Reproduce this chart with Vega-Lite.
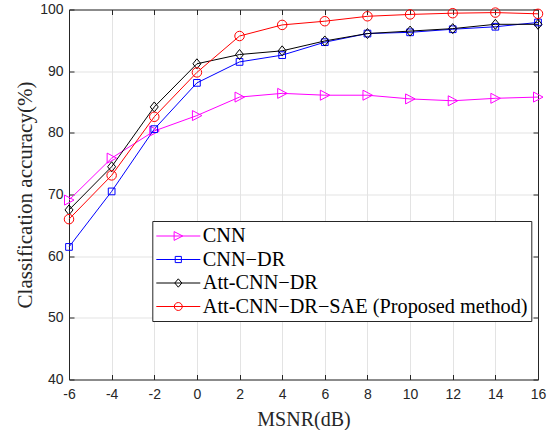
{
  "$schema": "https://vega.github.io/schema/vega-lite/v6.json",
  "width": 469,
  "height": 370,
  "autosize": "none",
  "padding": {"left": 69, "top": 9.5, "right": 16, "bottom": 50.5},
  "background": "white",
  "config": {"view": {"stroke": null}},
  "data": {
    "values": [
      {"snr": -6, "method": "CNN", "acc": 69.1},
      {"snr": -4, "method": "CNN", "acc": 75.9},
      {"snr": -2, "method": "CNN", "acc": 80.3},
      {"snr": 0, "method": "CNN", "acc": 82.8},
      {"snr": 2, "method": "CNN", "acc": 85.8},
      {"snr": 4, "method": "CNN", "acc": 86.4},
      {"snr": 6, "method": "CNN", "acc": 86.1},
      {"snr": 8, "method": "CNN", "acc": 86.1},
      {"snr": 10, "method": "CNN", "acc": 85.5},
      {"snr": 12, "method": "CNN", "acc": 85.2},
      {"snr": 14, "method": "CNN", "acc": 85.6},
      {"snr": 16, "method": "CNN", "acc": 85.8},
      {"snr": -6, "method": "CNN−DR", "acc": 61.5},
      {"snr": -4, "method": "CNN−DR", "acc": 70.5},
      {"snr": -2, "method": "CNN−DR", "acc": 80.6},
      {"snr": 0, "method": "CNN−DR", "acc": 88.1},
      {"snr": 2, "method": "CNN−DR", "acc": 91.5},
      {"snr": 4, "method": "CNN−DR", "acc": 92.6},
      {"snr": 6, "method": "CNN−DR", "acc": 94.7},
      {"snr": 8, "method": "CNN−DR", "acc": 96.1},
      {"snr": 10, "method": "CNN−DR", "acc": 96.3},
      {"snr": 12, "method": "CNN−DR", "acc": 96.8},
      {"snr": 14, "method": "CNN−DR", "acc": 97.2},
      {"snr": 16, "method": "CNN−DR", "acc": 97.9},
      {"snr": -6, "method": "Att-CNN−DR", "acc": 67.5},
      {"snr": -4, "method": "Att-CNN−DR", "acc": 74.5},
      {"snr": -2, "method": "Att-CNN−DR", "acc": 84.2},
      {"snr": 0, "method": "Att-CNN−DR", "acc": 91.2},
      {"snr": 2, "method": "Att-CNN−DR", "acc": 92.7},
      {"snr": 4, "method": "Att-CNN−DR", "acc": 93.3},
      {"snr": 6, "method": "Att-CNN−DR", "acc": 94.9},
      {"snr": 8, "method": "Att-CNN−DR", "acc": 96.1},
      {"snr": 10, "method": "Att-CNN−DR", "acc": 96.5},
      {"snr": 12, "method": "Att-CNN−DR", "acc": 96.9},
      {"snr": 14, "method": "Att-CNN−DR", "acc": 97.6},
      {"snr": 16, "method": "Att-CNN−DR", "acc": 97.6},
      {"snr": -6, "method": "Att-CNN−DR−SAE (Proposed method)", "acc": 66.0},
      {"snr": -4, "method": "Att-CNN−DR−SAE (Proposed method)", "acc": 73.1},
      {"snr": -2, "method": "Att-CNN−DR−SAE (Proposed method)", "acc": 82.6},
      {"snr": 0, "method": "Att-CNN−DR−SAE (Proposed method)", "acc": 89.8},
      {"snr": 2, "method": "Att-CNN−DR−SAE (Proposed method)", "acc": 95.7},
      {"snr": 4, "method": "Att-CNN−DR−SAE (Proposed method)", "acc": 97.5},
      {"snr": 6, "method": "Att-CNN−DR−SAE (Proposed method)", "acc": 98.1},
      {"snr": 8, "method": "Att-CNN−DR−SAE (Proposed method)", "acc": 98.9},
      {"snr": 10, "method": "Att-CNN−DR−SAE (Proposed method)", "acc": 99.2},
      {"snr": 12, "method": "Att-CNN−DR−SAE (Proposed method)", "acc": 99.4},
      {"snr": 14, "method": "Att-CNN−DR−SAE (Proposed method)", "acc": 99.5},
      {"snr": 16, "method": "Att-CNN−DR−SAE (Proposed method)", "acc": 99.3}
    ]
  },
  "resolve": {"scale": {"color": "independent", "shape": "independent"}},
  "layer": [
    {
      "mark": {"type": "line", "strokeWidth": 1},
      "encoding": {
        "x": {
          "field": "snr", "type": "quantitative",
          "scale": {"domain": [-6, 16], "nice": false, "zero": false},
          "axis": {
            "orient": "bottom", "values": [-6, -4, -2, 0, 2, 4, 6, 8, 10, 12, 14, 16],
            "grid": true, "gridColor": "#e3e3e3", "tickSize": -5, "tickColor": "#262626",
            "domainColor": "#262626", "labelPadding": 13, "labelFlush": false, "labelOverlap": false,
            "labelFont": "Liberation Sans", "labelFontSize": 14, "labelColor": "#262626",
            "labelExpr": "'' + datum.value",
            "title": "MSNR(dB)", "titleFont": "Liberation Serif", "titleFontSize": 20,
            "titleFontWeight": "normal", "titleColor": "#262626", "titlePadding": 8
          }
        },
        "y": {
          "field": "acc", "type": "quantitative",
          "scale": {"domain": [40, 100], "nice": false, "zero": false},
          "axis": {
            "orient": "left", "values": [40, 50, 60, 70, 80, 90, 100],
            "grid": true, "gridColor": "#e3e3e3", "tickSize": -5, "tickColor": "#262626",
            "domainColor": "#262626", "labelPadding": 11, "labelFlush": false, "labelOverlap": false,
            "labelFont": "Liberation Sans", "labelFontSize": 14, "labelColor": "#262626",
            "title": "Classification accuracy(%)", "titleFont": "Liberation Serif", "titleFontSize": 21,
            "titleFontWeight": "normal", "titleColor": "#262626", "titlePadding": 4
          }
        },
        "color": {
          "field": "method", "type": "nominal",
          "scale": {
            "domain": ["CNN", "CNN−DR", "Att-CNN−DR", "Att-CNN−DR−SAE (Proposed method)"],
            "range": ["#ff00ff", "#0000ff", "#000000", "#ff0000"]
          },
          "legend": null
        }
      }
    },
    {
      "mark": {"type": "point", "filled": false, "size": 100, "strokeWidth": 1, "opacity": 1},
      "encoding": {
        "x": {"field": "snr", "type": "quantitative", "axis": null},
        "y": {"field": "acc", "type": "quantitative", "axis": null},
        "color": {
          "field": "method", "type": "nominal",
          "scale": {
            "domain": ["CNN", "CNN−DR", "Att-CNN−DR", "Att-CNN−DR−SAE (Proposed method)"],
            "range": ["#ff00ff", "#0000ff", "#000000", "#ff0000"]
          },
          "legend": null
        },
        "shape": {
          "field": "method", "type": "nominal",
          "scale": {
            "domain": ["CNN", "CNN−DR", "Att-CNN−DR", "Att-CNN−DR−SAE (Proposed method)"],
            "range": [
              "M-0.9,-1L1,0L-0.9,1Z",
              "M-0.67,-0.67H0.67V0.67H-0.67Z",
              "M0,-1L0.8,0L0,1L-0.8,0Z",
              "M0.95,0A0.95,0.95,0,1,1,-0.95,0A0.95,0.95,0,1,1,0.95,0Z"
            ]
          },
          "legend": null
        }
      }
    },
    {
      "mark": {"type": "point", "filled": false, "size": 100, "strokeWidth": 1, "opacity": 0},
      "encoding": {
        "x": {
          "field": "snr", "type": "quantitative",
          "axis": {
            "orient": "top", "values": [-6, -4, -2, 0, 2, 4, 6, 8, 10, 12, 14, 16],
            "grid": false, "labels": false, "title": null, "tickSize": -5,
            "tickColor": "#262626", "domainColor": "#262626"
          }
        },
        "y": {
          "field": "acc", "type": "quantitative",
          "axis": {
            "orient": "right", "values": [40, 50, 60, 70, 80, 90, 100],
            "grid": false, "labels": false, "title": null, "tickSize": -5,
            "tickColor": "#262626", "domainColor": "#262626"
          }
        },
        "color": {
          "field": "method", "type": "nominal",
          "scale": {
            "domain": ["CNN", "CNN−DR", "Att-CNN−DR", "Att-CNN−DR−SAE (Proposed method)"],
            "range": ["#ff00ff", "#0000ff", "#000000", "#ff0000"]
          },
          "legend": {
            "orient": "none", "legendX": 83.3, "legendY": 211.5, "title": null,
            "direction": "vertical", "labelFont": "Liberation Serif", "labelFontSize": 20.3,
            "labelColor": "#000000", "labelOffset": 13, "labelLimit": 0,
            "symbolSize": 484, "symbolOffset": 11, "symbolStrokeWidth": 1, "symbolOpacity": 1,
            "strokeColor": "#262626", "fillColor": "white", "padding": 3.5, "rowPadding": 1.5
          }
        },
        "shape": {
          "field": "method", "type": "nominal",
          "scale": {
            "domain": ["CNN", "CNN−DR", "Att-CNN−DR", "Att-CNN−DR−SAE (Proposed method)"],
            "range": [
              "M-2,0H2M-0.38,-0.4L0.4,0L-0.38,0.4Z",
              "M-2,0H2M-0.28,-0.28H0.28V0.28H-0.28Z",
              "M-2,0H2M0,-0.38L0.32,0L0,0.38L-0.32,0Z",
              "M-2,0H2M0.36,0A0.36,0.36,0,1,1,-0.36,0A0.36,0.36,0,1,1,0.36,0Z"
            ]
          },
          "legend": {
            "orient": "none", "legendX": 83.3, "legendY": 211.5, "title": null,
            "direction": "vertical", "labelFont": "Liberation Serif", "labelFontSize": 20.3,
            "labelColor": "#000000", "labelOffset": 13, "labelLimit": 0,
            "symbolSize": 484, "symbolOffset": 11, "symbolStrokeWidth": 1, "symbolOpacity": 1,
            "strokeColor": "#262626", "fillColor": "white", "padding": 3.5, "rowPadding": 1.5
          }
        }
      }
    }
  ]
}
